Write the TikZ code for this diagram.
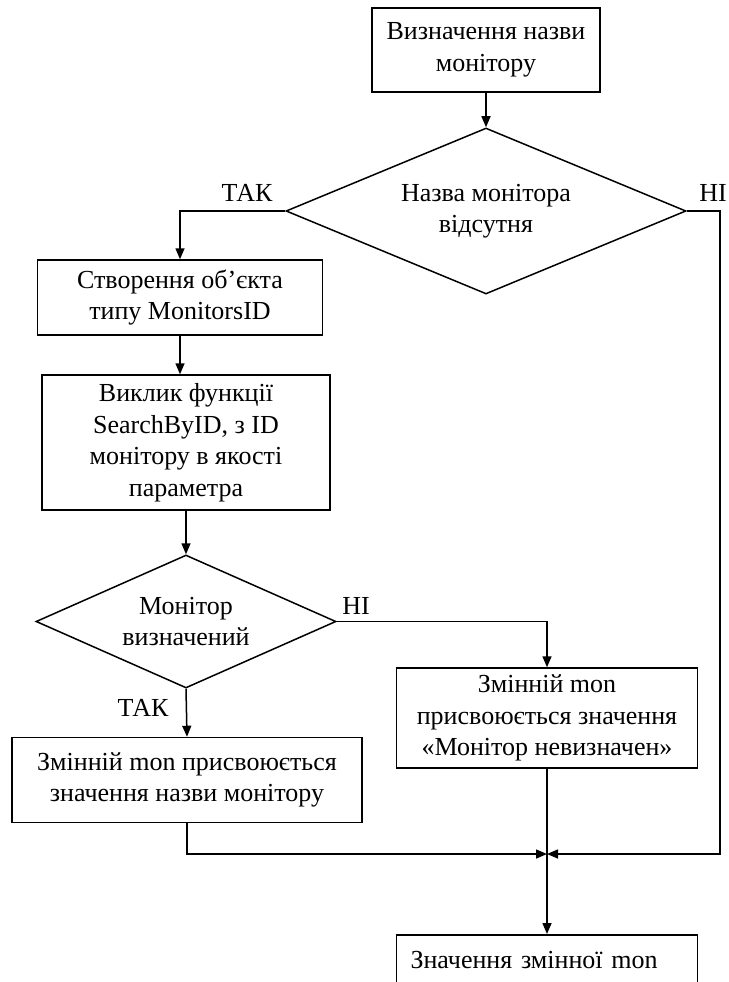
\documentclass[tikz,border=0pt]{standalone}
\usepackage{fontspec}
\setmainfont{Liberation Serif}
\usetikzlibrary{shapes.geometric,arrows.meta}
\tikzset{
  block/.style={draw, rectangle, align=center, inner sep=0pt, line width=1.5pt},
  decision/.style={draw, diamond, align=center, inner sep=0pt, line width=1.5pt},
  flow/.style={line width=1.5pt, -{Triangle[length=11pt,width=9pt]}},
  answer/.style={inner sep=0pt}
}
\begin{document}
\begin{tikzpicture}[x=1pt, y=-1pt, font=\fontsize{26}{31.5}\selectfont]
\useasboundingbox (0,0) rectangle (728,982);
\node[block, minimum width=228pt, minimum height=84pt] (nameBox) at (486,50) {Визначення назви\\монітору};
\node[decision, aspect=2.4, minimum width=400pt, minimum height=166pt] (nameCheck) at (486,211) {Назва монітора\\відсутня};
\node[block, minimum width=285pt, minimum height=75pt] (objBox) at (180,297.5) {Створення об’єкта\\типу MonitorsID};
\node[block, minimum width=288pt, minimum height=135pt] (searchBox) at (186,442.5) {Виклик функції\\SearchByID, з ID\\монітору в якості\\параметра};
\node[decision, aspect=2.25, minimum width=300pt, minimum height=133pt] (monCheck) at (186,621.5) {Монітор\\визначений};
\node[block, minimum width=350pt, minimum height=85pt] (nameSet) at (187,780) {Змінній mon присвоюється\\значення назви монітору};
\node[block, minimum width=301pt, minimum height=100pt] (undefSet) at (547,718) {Змінній mon\\присвоюється значення\\«Монітор невизначен»};
\node[block, anchor=north, minimum width=301pt, text width=273pt, align=left, text height=34pt, text depth=46pt] (result) at (547,934) {Значення змінної mon};
\coordinate (merge) at (547,854);
\coordinate (rightTurn) at (720,854);

\node[answer] (yes1) at (247,193) {ТАК};
\node[answer] (no1) at (713,193) {НІ};
\node[answer] (no2) at (356,606) {НІ};
\node[answer] (yes2) at (143,708) {ТАК};

\draw[flow] (nameBox) -- (nameCheck);
\draw[flow] (nameCheck.west) -| (objBox.north);
\draw[flow] (nameCheck.east) -| (rightTurn) -- (merge);
\draw[flow] (objBox.south) -- (objBox.south |- searchBox.north);
\draw[flow] (searchBox) -- (monCheck);
\draw[flow] (monCheck.east) -| (undefSet.north);
\draw[flow] (monCheck.south) -- (nameSet.north);
\draw[flow] (nameSet.south) |- (merge);
\draw[flow] (undefSet.south) -- (result.north);
\end{tikzpicture}
\end{document}
